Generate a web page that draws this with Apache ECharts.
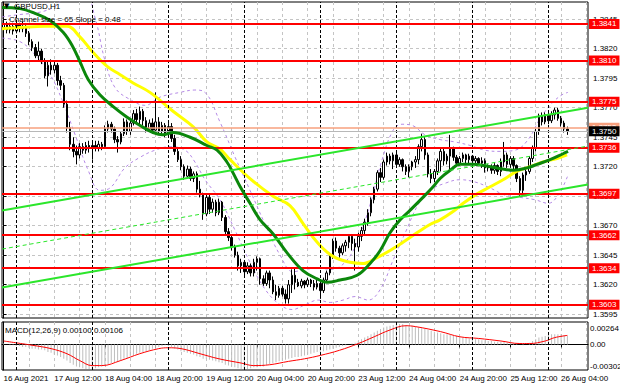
<!DOCTYPE html>
<html><head><meta charset="utf-8">
<script src="https://cdn.jsdelivr.net/npm/echarts@6/dist/echarts.min.js"></script>
<style>html,body{margin:0;padding:0;background:#fff}#c{width:620px;height:388px}</style>
</head><body><div id="c"></div>
<script>
// ---- DATA (GBPUSD H1, 16 Aug 20:00 .. 26 Aug 06:00) ----
// candles: [open, close, low, high]
const candles = [
[1.3838,1.3841,1.3834,1.3843],[1.3841,1.3836,1.3833,1.3843],[1.3836,1.3839,1.3833,1.3842],[1.3839,1.3835,1.3832,1.3842],
[1.3835,1.3840,1.3833,1.3843],[1.3840,1.3837,1.3834,1.3842],[1.3837,1.3839,1.3834,1.3843],[1.3839,1.3833,1.3830,1.3841],
[1.3833,1.3826,1.3823,1.3835],[1.3826,1.3821,1.3818,1.3828],[1.3821,1.3814,1.3812,1.3824],[1.3814,1.3818,1.3810,1.3826],
[1.3818,1.3809,1.3807,1.3820],[1.3809,1.3797,1.3795,1.3812],[1.3797,1.3806,1.3788,1.3809],[1.3806,1.3802,1.3798,1.3811],
[1.3802,1.3806,1.3799,1.3810],[1.3806,1.3793,1.3789,1.3808],[1.3793,1.3789,1.3785,1.3797],[1.3789,1.3773,1.3770,1.3791],
[1.3773,1.3753,1.3749,1.3776],[1.3753,1.3739,1.3734,1.3758],[1.3739,1.3733,1.3728,1.3745],[1.3733,1.3730,1.3722,1.3738],
[1.3730,1.3737,1.3727,1.3740],[1.3737,1.3734,1.3731,1.3740],[1.3734,1.3738,1.3731,1.3741],[1.3738,1.3736,1.3732,1.3742],
[1.3736,1.3738,1.3726,1.3741],[1.3738,1.3736,1.3733,1.3742],[1.3736,1.3739,1.3733,1.3742],[1.3739,1.3737,1.3734,1.3741],
[1.3737,1.3752,1.3735,1.3755],[1.3752,1.3756,1.3749,1.3759],[1.3756,1.3752,1.3749,1.3758],[1.3752,1.3743,1.3740,1.3754],
[1.3743,1.3741,1.3732,1.3746],[1.3741,1.3748,1.3739,1.3750],[1.3748,1.3758,1.3746,1.3761],[1.3758,1.3750,1.3747,1.3760],
[1.3750,1.3757,1.3747,1.3760],[1.3757,1.3765,1.3755,1.3768],[1.3765,1.3760,1.3756,1.3769],[1.3760,1.3767,1.3756,1.3771],
[1.3767,1.3759,1.3755,1.3769],[1.3759,1.3752,1.3749,1.3762],[1.3752,1.3757,1.3750,1.3760],[1.3757,1.3751,1.3748,1.3761],
[1.3751,1.3758,1.3748,1.3783],[1.3758,1.3750,1.3747,1.3762],[1.3750,1.3755,1.3746,1.3758],[1.3755,1.3748,1.3745,1.3757],
[1.3748,1.3754,1.3746,1.3757],[1.3754,1.3744,1.3741,1.3757],[1.3744,1.3733,1.3730,1.3747],[1.3733,1.3726,1.3724,1.3736],
[1.3726,1.3720,1.3717,1.3729],[1.3720,1.3712,1.3709,1.3722],[1.3712,1.3718,1.3710,1.3721],[1.3718,1.3710,1.3708,1.3720],
[1.3710,1.3714,1.3707,1.3716],[1.3714,1.3701,1.3698,1.3716],[1.3701,1.3696,1.3694,1.3708],[1.3696,1.3680,1.3675,1.3698],
[1.3680,1.3694,1.3678,1.3697],[1.3694,1.3684,1.3680,1.3697],[1.3684,1.3690,1.3681,1.3693],[1.3690,1.3681,1.3678,1.3692],
[1.3681,1.3690,1.3679,1.3693],[1.3690,1.3677,1.3674,1.3691],[1.3677,1.3665,1.3662,1.3679],[1.3665,1.3660,1.3657,1.3668],
[1.3660,1.3652,1.3649,1.3662],[1.3652,1.3645,1.3643,1.3654],[1.3645,1.3636,1.3632,1.3648],[1.3636,1.3639,1.3630,1.3642],
[1.3639,1.3631,1.3627,1.3641],[1.3631,1.3636,1.3629,1.3639],[1.3636,1.3630,1.3627,1.3638],[1.3630,1.3639,1.3627,1.3642],
[1.3639,1.3642,1.3632,1.3644],[1.3642,1.3625,1.3620,1.3643],[1.3625,1.3621,1.3619,1.3628],[1.3621,1.3630,1.3619,1.3632],
[1.3630,1.3624,1.3617,1.3632],[1.3624,1.3614,1.3612,1.3627],[1.3614,1.3611,1.3607,1.3620],[1.3611,1.3617,1.3609,1.3619],
[1.3617,1.3612,1.3610,1.3619],[1.3612,1.3608,1.3604,1.3616],[1.3608,1.3620,1.3604,1.3624],[1.3620,1.3628,1.3613,1.3633],
[1.3628,1.3622,1.3616,1.3635],[1.3622,1.3619,1.3618,1.3625],[1.3619,1.3623,1.3617,1.3625],[1.3623,1.3620,1.3617,1.3624],
[1.3620,1.3624,1.3618,1.3626],[1.3624,1.3621,1.3618,1.3625],[1.3621,1.3618,1.3615,1.3624],[1.3618,1.3621,1.3616,1.3624],
[1.3621,1.3615,1.3608,1.3622],[1.3615,1.3624,1.3613,1.3626],[1.3624,1.3630,1.3622,1.3632],[1.3630,1.3645,1.3628,1.3647],
[1.3645,1.3657,1.3642,1.3659],[1.3657,1.3651,1.3648,1.3660],[1.3651,1.3647,1.3643,1.3653],[1.3647,1.3653,1.3645,1.3655],
[1.3653,1.3656,1.3648,1.3658],[1.3656,1.3661,1.3651,1.3663],[1.3661,1.3655,1.3649,1.3663],[1.3655,1.3652,1.3632,1.3659],
[1.3652,1.3661,1.3648,1.3664],[1.3661,1.3666,1.3657,1.3669],[1.3666,1.3673,1.3663,1.3676],[1.3673,1.3681,1.3670,1.3684],
[1.3681,1.3692,1.3678,1.3694],[1.3692,1.3701,1.3689,1.3703],[1.3701,1.3715,1.3699,1.3717],[1.3715,1.3711,1.3707,1.3719],
[1.3711,1.3724,1.3709,1.3726],[1.3724,1.3729,1.3721,1.3732],[1.3729,1.3725,1.3722,1.3731],[1.3725,1.3730,1.3718,1.3732],
[1.3730,1.3722,1.3719,1.3732],[1.3722,1.3726,1.3720,1.3728],[1.3726,1.3720,1.3716,1.3727],[1.3720,1.3716,1.3713,1.3722],
[1.3716,1.3720,1.3711,1.3722],[1.3720,1.3724,1.3717,1.3725],[1.3724,1.3726,1.3719,1.3729],[1.3726,1.3737,1.3722,1.3739],
[1.3737,1.3743,1.3733,1.3748],[1.3743,1.3730,1.3726,1.3745],[1.3730,1.3714,1.3711,1.3732],[1.3714,1.3710,1.3706,1.3718],
[1.3710,1.3716,1.3707,1.3718],[1.3716,1.3725,1.3713,1.3727],[1.3725,1.3733,1.3716,1.3735],[1.3733,1.3725,1.3721,1.3736],
[1.3725,1.3729,1.3722,1.3731],[1.3729,1.3735,1.3718,1.3747],[1.3735,1.3728,1.3725,1.3737],[1.3728,1.3723,1.3720,1.3730],
[1.3723,1.3727,1.3721,1.3729],[1.3727,1.3730,1.3724,1.3732],[1.3730,1.3726,1.3723,1.3731],[1.3726,1.3729,1.3722,1.3731],
[1.3729,1.3725,1.3723,1.3730],[1.3725,1.3727,1.3723,1.3729],[1.3727,1.3723,1.3721,1.3728],[1.3723,1.3725,1.3719,1.3728],
[1.3725,1.3719,1.3715,1.3727],[1.3719,1.3720,1.3716,1.3722],[1.3720,1.3717,1.3714,1.3722],[1.3717,1.3721,1.3714,1.3723],
[1.3721,1.3716,1.3713,1.3722],[1.3716,1.3724,1.3712,1.3727],[1.3724,1.3730,1.3720,1.3741],[1.3730,1.3722,1.3719,1.3732],
[1.3722,1.3727,1.3719,1.3729],[1.3727,1.3721,1.3718,1.3729],[1.3721,1.3710,1.3707,1.3722],[1.3710,1.3700,1.3695,1.3712],
[1.3700,1.3713,1.3697,1.3715],[1.3713,1.3716,1.3708,1.3718],[1.3716,1.3727,1.3714,1.3729],[1.3727,1.3736,1.3724,1.3738],
[1.3736,1.3750,1.3733,1.3752],[1.3750,1.3763,1.3747,1.3765],[1.3763,1.3758,1.3755,1.3766],[1.3758,1.3764,1.3756,1.3766],
[1.3764,1.3759,1.3756,1.3766],[1.3759,1.3764,1.3757,1.3767],[1.3764,1.3768,1.3760,1.3770],[1.3768,1.3761,1.3759,1.3770],
[1.3761,1.3757,1.3754,1.3763],[1.3757,1.3752,1.3749,1.3759],[1.3752,1.3750,1.3747,1.3754]
];
const emptySlots = 6;                       // right shift of the chart
const timeLabels = ['16 Aug 2021','17 Aug 12:00','18 Aug 04:00','18 Aug 20:00','19 Aug 12:00','20 Aug 04:00',
                    '20 Aug 20:00','23 Aug 12:00','24 Aug 04:00','24 Aug 20:00','25 Aug 12:00','26 Aug 04:00'];
const labelStep = 16;                       // bars between time labels
const gridStep = 8;                         // bars between vertical grid lines
const daySeparators = [4, 28, 52, 76, 100, 124, 148, 172];   // bars at 00:00
const priceTicks = [1.3595,1.3620,1.3645,1.3670,1.3695,1.3720,1.3745,1.3770,1.3795,1.3820,1.3845];
const priceRange = [1.35918, 1.38596];
const levelPrices = [1.3841,1.3810,1.3775,1.3736,1.3697,1.3662,1.3634,1.3603];
const askPrice = 1.3753;
const bidPrice = 1.3750;
// moving averages: [bar, price]
const maGreen = [[-0.5,1.3855],[5.2,1.3854],[9.9,1.3850],[14.7,1.3844],[18.8,1.3834],[21.6,1.3823],[24.1,1.3809],
 [26.7,1.3794],[30.4,1.3781],[34.6,1.3771],[39.0,1.3762],[43.1,1.3755],[47.2,1.3749],[50.3,1.3747],[53.5,1.3749],
 [58.9,1.3745],[64.2,1.3738],[67.4,1.3734],[70.5,1.3724],[72.4,1.3715],[74.7,1.3703],[77.8,1.3689],[81.0,1.3675],
 [85.1,1.3663],[89.5,1.3647],[94.5,1.3632],[99.0,1.3625],[102.1,1.3622],[106.2,1.3624],[111.6,1.3628],[115.7,1.3638],
 [118.9,1.3649],[122.0,1.3664],[125.2,1.3675],[128.3,1.3683],[132.4,1.3694],[135.6,1.3703],[137.8,1.3710],[141.0,1.3717],
 [144.1,1.3722],[148.2,1.3722],[151.4,1.3721],[155.8,1.3719],[160.9,1.3717],[165.3,1.3719],[168.4,1.3722],[172.5,1.3726],
 [176.6,1.3731],[178.2,1.3733]];
const maYellow = [[-0.5,1.3837],[5.2,1.3838],[13.1,1.3839],[20.0,1.3839],[24.1,1.3830],[28.2,1.3817],[32.7,1.3805],
 [36.8,1.3798],[40.9,1.3791],[46.2,1.3783],[53.5,1.3767],[59.8,1.3754],[64.2,1.3741],[68.3,1.3735],[71.5,1.3726],
 [77.8,1.3710],[85.1,1.3695],[90.4,1.3687],[94.5,1.3672],[99.0,1.3656],[104.0,1.3644],[109.4,1.3639],[113.5,1.3638],
 [117.9,1.3643],[122.0,1.3649],[126.1,1.3656],[130.5,1.3664],[134.6,1.3671],[137.8,1.3675],[141.9,1.3682],[145.1,1.3689],
 [149.5,1.3697],[153.6,1.3703],[157.7,1.3709],[162.0,1.3716],[166.2,1.3720],[170.3,1.3724],[174.7,1.3727],[177.9,1.3730]];
// bands: [bar, price]
const bandUpper = [[-0.5,1.3847],[5.2,1.3849],[11.5,1.3851],[16.3,1.3856],[20.3,1.3866],[25.7,1.3866],[28.9,1.3846],
 [32.0,1.3810],[35.2,1.3787],[39.9,1.3777],[44.7,1.3772],[49.4,1.3779],[55.7,1.3783],[60.4,1.3785],[63.6,1.3783],
 [68.3,1.3758],[73.1,1.3728],[77.8,1.3700],[82.6,1.3671],[87.3,1.3645],[91.4,1.3631],[95.2,1.3633],[99.9,1.3634],
 [103.1,1.3633],[107.8,1.3639],[111.9,1.3658],[115.7,1.3688],[119.5,1.3726],[123.0,1.3751],[125.8,1.3756],[129.0,1.3755],
 [133.1,1.3747],[137.8,1.3743],[142.5,1.3741],[147.3,1.3738],[152.0,1.3734],[156.8,1.3733],[161.5,1.3734],[165.6,1.3743],
 [169.4,1.3761],[173.2,1.3774],[176.3,1.3781],[178.2,1.3783]];
const bandLower = [[-0.5,1.3829],[5.2,1.3826],[9.9,1.3815],[14.7,1.3798],[18.4,1.3777],[22.6,1.3747],[26.7,1.3717],
 [30.4,1.3700],[33.6,1.3702],[38.3,1.3719],[43.1,1.3728],[47.8,1.3734],[52.6,1.3737],[57.3,1.3734],[60.4,1.3724],
 [63.6,1.3709],[68.3,1.3692],[73.1,1.3666],[77.8,1.3639],[82.6,1.3616],[87.3,1.3603],[91.1,1.3599],[95.2,1.3603],
 [99.3,1.3607],[103.1,1.3605],[107.2,1.3607],[111.0,1.3610],[115.1,1.3607],[118.9,1.3616],[123.0,1.3641],[126.8,1.3664],
 [130.9,1.3688],[134.6,1.3700],[139.4,1.3706],[144.1,1.3709],[148.9,1.3707],[153.6,1.3702],[158.3,1.3696],[163.1,1.3694],
 [167.8,1.3692],[171.9,1.3689],[175.1,1.3696],[178.2,1.3713]];
// regression channel: [bar, price]
const channelUpper = [[-0.5,1.36829],[184.5,1.37700]];
const channelMid   = [[-0.5,1.36502],[184.5,1.37375]];
const channelLower = [[-0.5,1.36176],[184.5,1.37050]];
// MACD (units of 0.0001)
const macdUnit = 0.0001;
const macdMain = [1,0,-1,-1,-2,-2,-3,-3,-4,-5,
 -5,-6,-6,-7,-9,-10,-12,-13,-15,-17,
 -19,-22,-24,-26,-27,-28,-29,-29,-29,-28,
 -27,-26,-25,-23,-22,-21,-20,-19,-17,-16,
 -14,-13,-11,-10,-9,-8,-7,-5,-4,-3,
 -2,-1,-2,-3,-5,-6,-8,-9,-10,-11,
 -12,-14,-15,-17,-17,-18,-19,-20,-21,-22,
 -24,-25,-26,-27,-28,-29,-29,-29,-28,-27,
 -27,-26,-26,-24,-23,-22,-21,-20,-19,-18,
 -17,-16,-15,-15,-14,-13,-12,-11,-10,-9,
 -9,-8,-7,-6,-5,-4,-3,-2,-1,0,
 1,2,4,6,8,10,12,14,16,18,
 20,21,22,23,24,24,24,23,23,22,
 21,20,19,18,17,16,15,14,13,12,
 12,11,10,10,9,8,8,7,7,6,
 6,5,5,4,4,3,3,3,3,2,
 2,1,1,0,-1,0,2,4,6,8,
 9,10,11,12,12,12,12,11,10];
const macdSignal = [[0,4],[9,-1],[15,-5],[20,-11],[24,-19],[28,-25],[31,-25],[37,-19],[43,-11],[49,-5],[52,-4],
 [56,-5],[62,-11],[68,-17],[75,-22],[79,-25],[84,-24],[90,-20],[95,-17],[100,-13],[106,-7],[112,1],[117,9],
 [122,17],[127,22],[130,21],[138,15],[144,9],[150,7],[157,4],[163,1],[166,1],[171,4],[174,8],[178,10.6]];
const macdRange = [-0.00302, 0.00264];
const macdTitle = 'MACD(12,26,9) 0.00100 0.00106';

// ---- CHART ----
const FONT = 'Liberation Sans';
const slots = candles.length + emptySlots;
const cats = Array.from({length: slots}, (_, i) => i);
const gridBars = [];
for (let b = 0; b < slots; b += gridStep) gridBars.push(b);
const xMax = slots - 0.5;
const gridLine = {show: true, lineStyle: {color: '#c4c4c4', width: 1, type: [3, 3]}};
const sepLine = {silent: true, symbol: ['none','none'], animation: false, label: {show: false},
  lineStyle: {color: '#000', width: 1, type: [3, 2]}, emphasis: {disabled: true},
  data: daySeparators.map(b => ({xAxis: b}))};

function priceLabel(p, bg, fg) {
  return {yAxis: p, label: {show: true, position: 'end', distance: 1, formatter: () => p.toFixed(4),
    color: fg, backgroundColor: bg, padding: [1, 3, 0, 3], fontSize: 8, lineHeight: 9, fontFamily: FONT}};
}
const levelMarks = levelPrices.map(p => Object.assign(priceLabel(p, '#ff0000', '#fff'),
  {lineStyle: {color: '#ff0000', width: 2, type: 'solid'}}));
levelMarks.push(Object.assign(priceLabel(askPrice, '#f7a07e', '#fff'), {lineStyle: {color: '#f7a07e', width: 1.5, type: 'solid'}}));
levelMarks.push(Object.assign(priceLabel(bidPrice, '#000', '#fff'), {lineStyle: {color: '#b8b8b8', width: 1, type: 'solid'}}));

const lineSeries = (name, data, color, width, z, type, smooth) => ({
  name, type: 'line', xAxisIndex: 1, yAxisIndex: 0, data, showSymbol: false, symbol: 'none',
  smooth: smooth, z, silent: true, animation: false,
  lineStyle: {color, width, type: type || 'solid'}
});

const chart = echarts.init(document.getElementById('c'), null, {renderer: 'svg', width: 620, height: 388});
chart.setOption({
  animation: false,
  backgroundColor: '#fff',
  textStyle: {fontFamily: FONT},
  grid: [
    {left: 2, top: 2, width: 586, height: 316, show: true, borderColor: '#000', borderWidth: 1, outerBoundsMode: 'none', containLabel: false},
    {left: 2, top: 322, width: 586, height: 48, show: true, borderColor: '#000', borderWidth: 1, outerBoundsMode: 'none', containLabel: false}
  ],
  xAxis: [
    {type: 'category', gridIndex: 0, data: cats, boundaryGap: true,
     axisLine: {show: false}, axisTick: {show: false}, axisLabel: {show: false}, splitLine: {show: false}},
    {type: 'value', gridIndex: 0, min: -0.5, max: xMax,
     axisLine: {show: false}, axisLabel: {show: false}, axisTick: {show: false, customValues: gridBars}, splitLine: gridLine},
    {type: 'category', gridIndex: 1, data: cats, boundaryGap: true,
     axisLine: {show: true, lineStyle: {color: '#000'}},
     axisTick: {show: true, alignWithLabel: true, length: 3, interval: (i) => i % labelStep === 0 && i / labelStep < timeLabels.length, lineStyle: {color: '#000'}},
     axisLabel: {show: true, interval: (i) => i % labelStep === 0 && i / labelStep < timeLabels.length,
       formatter: (v, i) => timeLabels[Math.round(i / labelStep)] || '', align: 'left', fontSize: 8, color: '#000', margin: 4, fontFamily: FONT},
     splitLine: {show: false}},
    {type: 'value', gridIndex: 1, min: -0.5, max: xMax,
     axisLine: {show: false}, axisLabel: {show: false}, axisTick: {show: false, customValues: gridBars}, splitLine: gridLine}
  ],
  yAxis: [
    {type: 'value', gridIndex: 0, position: 'right', min: priceRange[0], max: priceRange[1], scale: true,
     axisLine: {show: true, lineStyle: {color: '#000'}},
     axisTick: {show: true, length: 3, customValues: priceTicks, lineStyle: {color: '#000'}},
     axisLabel: {show: true, customValues: priceTicks, formatter: v => v.toFixed(4), fontSize: 8, color: '#000', margin: 5, fontFamily: FONT},
     splitLine: gridLine},
    {type: 'value', gridIndex: 1, position: 'right', min: macdRange[0], max: macdRange[1],
     axisLine: {show: true, lineStyle: {color: '#000'}},
     axisTick: {show: false, customValues: [0]},
     axisLabel: {show: true, customValues: [macdRange[0], 0, macdRange[1]], fontSize: 8, color: '#000', margin: 2, fontFamily: FONT,
       formatter: v => v > 0 ? '{t|' + v.toFixed(5) + '}' : (v < 0 ? '{b|' + v.toFixed(5) + '}' : '0.00'),
       rich: {t: {padding: [12, 0, 0, 0], fontSize: 8, fontFamily: FONT, color: '#000'},
              b: {padding: [0, 0, 7, 0], fontSize: 8, fontFamily: FONT, color: '#000'}}},
     splitLine: gridLine}
  ],
  graphic: [
    {type: 'text', left: 4, top: 2, z: 100, style: {text: '▼', fontSize: 7, fill: '#000', fontFamily: 'DejaVu Sans'}},
    {type: 'text', left: 14, top: 2, z: 100, style: {text: 'GBPUSD,H1', fontSize: 8, fill: '#000', fontFamily: FONT}},
    {type: 'text', left: 9, top: 15, z: 100, style: {text: 'Channel size = 65 Slope = 0.48', fontSize: 8, fill: '#000', fontFamily: FONT}},
    {type: 'text', left: 5, top: 326, z: 100, style: {text: macdTitle, fontSize: 8, fill: '#000', fontFamily: FONT}}
  ],
  series: [
    Object.assign(lineSeries('separators', [], '#000', 1, 1), {markLine: sepLine}),
    lineSeries('bandUpper', bandUpper, '#b58ae6', 1, 2, [3, 3], 0.4),
    lineSeries('bandLower', bandLower, '#b58ae6', 1, 2, [3, 3], 0.4),
    {name: 'GBPUSD', type: 'candlestick', xAxisIndex: 0, yAxisIndex: 0, data: candles, barWidth: 2, z: 3,
     silent: true, animation: false,
     itemStyle: {color: '#ffffff', color0: '#000000', borderColor: '#000000', borderColor0: '#000000', borderWidth: 1}},
    lineSeries('maYellow', maYellow, '#ffff00', 3, 4, 'solid', 0.4),
    lineSeries('maGreen', maGreen, '#0b870b', 3, 5, 'solid', 0.4),
    lineSeries('channelMid', channelMid, '#2be62b', 1, 6, [4, 3], false),
    lineSeries('channelUpper', channelUpper, '#2be62b', 2, 6, 'solid', false),
    lineSeries('channelLower', channelLower, '#2be62b', 2, 6, 'solid', false),
    Object.assign(lineSeries('levels', [], '#f00', 2, 7), {markLine: {silent: true, symbol: ['none','none'], precision: 4, animation: false, data: levelMarks}}),
    {name: 'MACD', type: 'bar', xAxisIndex: 2, yAxisIndex: 1, data: macdMain.map(v => v * macdUnit),
     barWidth: 1, itemStyle: {color: '#bdbdbd'}, silent: true, animation: false, z: 2},
    Object.assign({name: 'Signal', type: 'line', xAxisIndex: 3, yAxisIndex: 1, data: macdSignal.map(p => [p[0], p[1] * macdUnit]),
     showSymbol: false, symbol: 'none', smooth: 0.4, silent: true, animation: false, z: 3,
     lineStyle: {color: '#ff0000', width: 1}}, {markLine: sepLine})
  ]
});
</script></body></html>
